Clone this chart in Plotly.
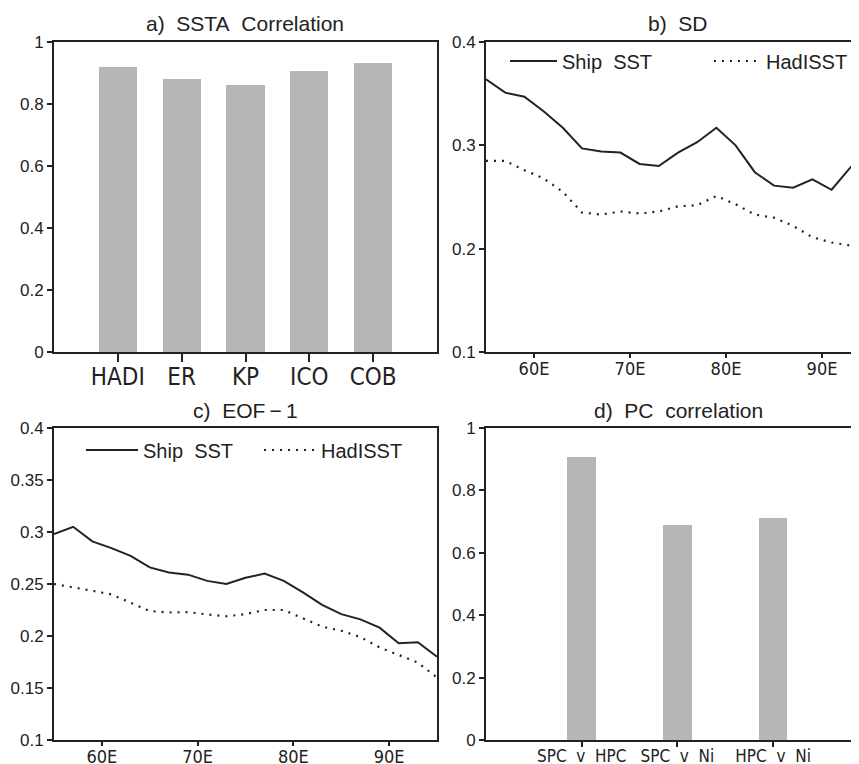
import plotly.graph_objects as go

W, H = 859, 764

# ---------------- data ----------------
ssta_cats = ["HADI", "ER", "KP", "ICO", "COB"]
ssta_corr = [0.918, 0.880, 0.861, 0.906, 0.931]

lon = [55, 57, 59, 61, 63, 65, 67, 69, 71, 73, 75, 77, 79, 81, 83, 85, 87, 89, 91, 93, 95]
sd_ship = [0.364, 0.351, 0.347, 0.333, 0.317, 0.297, 0.294, 0.293, 0.282, 0.280, 0.293,
           0.303, 0.317, 0.300, 0.274, 0.261, 0.259, 0.267, 0.257, 0.279, 0.279]
sd_had = [0.285, 0.285, 0.276, 0.268, 0.255, 0.235, 0.233, 0.236, 0.234, 0.236, 0.241,
          0.242, 0.251, 0.243, 0.233, 0.230, 0.222, 0.211, 0.206, 0.203, 0.199]
eof_ship = [0.298, 0.305, 0.291, 0.2845, 0.277, 0.266, 0.261, 0.259, 0.253, 0.250, 0.256,
            0.260, 0.253, 0.242, 0.230, 0.221, 0.216, 0.208, 0.193, 0.194, 0.180]
eof_had = [0.250, 0.247, 0.2435, 0.240, 0.232, 0.224, 0.2226, 0.223, 0.2207, 0.219, 0.221,
           0.225, 0.225, 0.217, 0.209, 0.205, 0.199, 0.189, 0.1815, 0.1745, 0.160]

pc_cats = ["SPC\u00a0\u00a0v\u00a0\u00a0HPC", "SPC\u00a0\u00a0v\u00a0\u00a0Ni", "HPC\u00a0\u00a0v\u00a0\u00a0Ni"]
pc_corr = [0.908, 0.690, 0.712]

lon_ticks = [60, 70, 80, 90]
lon_labels = ["60E", "70E", "80E", "90E"]

titles = ["a)\u00a0\u00a0SSTA\u00a0\u00a0Correlation", "b)\u00a0\u00a0SD",
          "c)\u00a0\u00a0EOF\u2009\u2212\u20091", "d)\u00a0\u00a0PC\u00a0\u00a0correlation"]
ship_name = "Ship\u00a0\u00a0SST"
had_name = "HadISST"

# ---------------- style ----------------
INK = "#222222"
BAR = "#b5b6b8"
FONT = "Liberation Sans, Arial, sans-serif"
NARROW = "Liberation Sans Narrow, DejaVu Sans Condensed, Liberation Sans, sans-serif"

# the page body adds an 8px offset; positions below are screen pixels
OFF = 8

def px_x(p):
    return (p - OFF) / W

def px_y(p):
    return 1 - (p - OFF) / H

dom_left = [px_x(54), px_x(437)]
dom_right = [px_x(486), 1.0]
dom_top = [px_y(352), px_y(42)]
dom_bot = [px_y(740), px_y(428)]
right_edge = W + OFF  # screen px of figure's right edge

fig = go.Figure()

# a) bars
fig.add_trace(go.Bar(x=ssta_cats, y=ssta_corr, marker=dict(color=BAR, line=dict(width=0)),
                     width=0.6, xaxis="x", yaxis="y", showlegend=False))
# b) lines
fig.add_trace(go.Scatter(x=lon, y=sd_ship, mode="lines", name=ship_name,
                         line=dict(color=INK, width=2), xaxis="x2", yaxis="y2", legend="legend"))
fig.add_trace(go.Scatter(x=lon, y=sd_had, mode="lines", name=had_name,
                         line=dict(color=INK, width=2.2, dash="2px,6px"), xaxis="x2", yaxis="y2",
                         legend="legend"))
# c) lines
fig.add_trace(go.Scatter(x=lon, y=eof_ship, mode="lines", name=ship_name,
                         line=dict(color=INK, width=2), xaxis="x3", yaxis="y3", legend="legend2"))
fig.add_trace(go.Scatter(x=lon, y=eof_had, mode="lines", name=had_name,
                         line=dict(color=INK, width=2.2, dash="2px,6px"), xaxis="x3", yaxis="y3",
                         legend="legend2"))
# d) bars
fig.add_trace(go.Bar(x=pc_cats, y=pc_corr, marker=dict(color=BAR, line=dict(width=0)),
                     width=0.3, xaxis="x4", yaxis="y4", showlegend=False))

common_axis = dict(showline=True, linecolor=INK, linewidth=2, showgrid=False, zeroline=False,
                   ticks="outside", tickcolor=INK, tickwidth=1.5, fixedrange=True,
                   automargin=False)
ytick_font = dict(family=FONT, size=17, color=INK)

fig.update_layout(
    width=W, height=H,
    margin=dict(l=0, r=0, t=0, b=0, autoexpand=False),
    paper_bgcolor="white", plot_bgcolor="white",
    bargap=0,
    xaxis=dict(common_axis, domain=dom_left, anchor="y", type="category",
               range=[-1, 5], mirror=True, ticklen=8, tickangle=0, ticklabelstandoff=-6,
               tickfont=dict(family=NARROW, size=24, color=INK)),
    yaxis=dict(common_axis, domain=dom_top, anchor="x", range=[0, 1], dtick=0.2,
               mirror=True, ticklen=5, tickfont=ytick_font),
    xaxis2=dict(common_axis, domain=dom_right, anchor="y2",
                range=[55, 55 + (right_edge - 486) / 9.6],
                tickvals=lon_ticks, ticktext=lon_labels, mirror=True, ticklen=4, tickangle=0,
                ticklabelstandoff=-5, tickfont=dict(family=NARROW, size=18, color=INK)),
    yaxis2=dict(common_axis, domain=dom_top, anchor="x2", range=[0.1, 0.4], dtick=0.1,
                mirror=False, ticklen=5, tickfont=ytick_font),
    xaxis3=dict(common_axis, domain=dom_left, anchor="y3", range=[55, 95],
                tickvals=lon_ticks, ticktext=lon_labels, mirror=True, ticklen=4, tickangle=0,
                ticklabelstandoff=-5, tickfont=dict(family=NARROW, size=18, color=INK)),
    yaxis3=dict(common_axis, domain=dom_bot, anchor="x3", range=[0.1, 0.4], dtick=0.05,
                mirror=True, ticklen=5, tickfont=ytick_font),
    xaxis4=dict(common_axis, domain=dom_right, anchor="y4", type="category",
                range=[-1, -1 + (right_edge - 486.8) / 95.5], mirror=True, ticklen=5,
                tickangle=0, ticklabelstandoff=-5,
                tickfont=dict(family=NARROW, size=17, color=INK)),
    yaxis4=dict(common_axis, domain=dom_bot, anchor="x4", range=[0, 1], dtick=0.2,
                mirror=False, ticklen=5, tickfont=ytick_font),
    legend=dict(orientation="h", x=px_x(505), xanchor="left", y=px_y(61), yanchor="middle",
                bgcolor="rgba(0,0,0,0)", borderwidth=0, itemwidth=47,
                entrywidth=142, entrywidthmode="pixels",
                font=dict(family=FONT, size=20, color=INK)),
    legend2=dict(orientation="h", x=px_x(81), xanchor="left", y=px_y(450), yanchor="middle",
                 bgcolor="rgba(0,0,0,0)", borderwidth=0, itemwidth=52,
                 entrywidth=111, entrywidthmode="pixels",
                 font=dict(family=FONT, size=20, color=INK)),
)

title_pos = [(245.5, 23.7), (677.5, 23.7), (245.7, 410.5), (678.5, 410.5)]
for t, (cx, cy) in zip(titles, title_pos):
    fig.add_annotation(text=t, xref="paper", yref="paper", x=px_x(cx), y=px_y(cy),
                       xanchor="center", yanchor="middle", showarrow=False,
                       font=dict(family=FONT, size=21, color=INK))

fig.write_html("out.html")
